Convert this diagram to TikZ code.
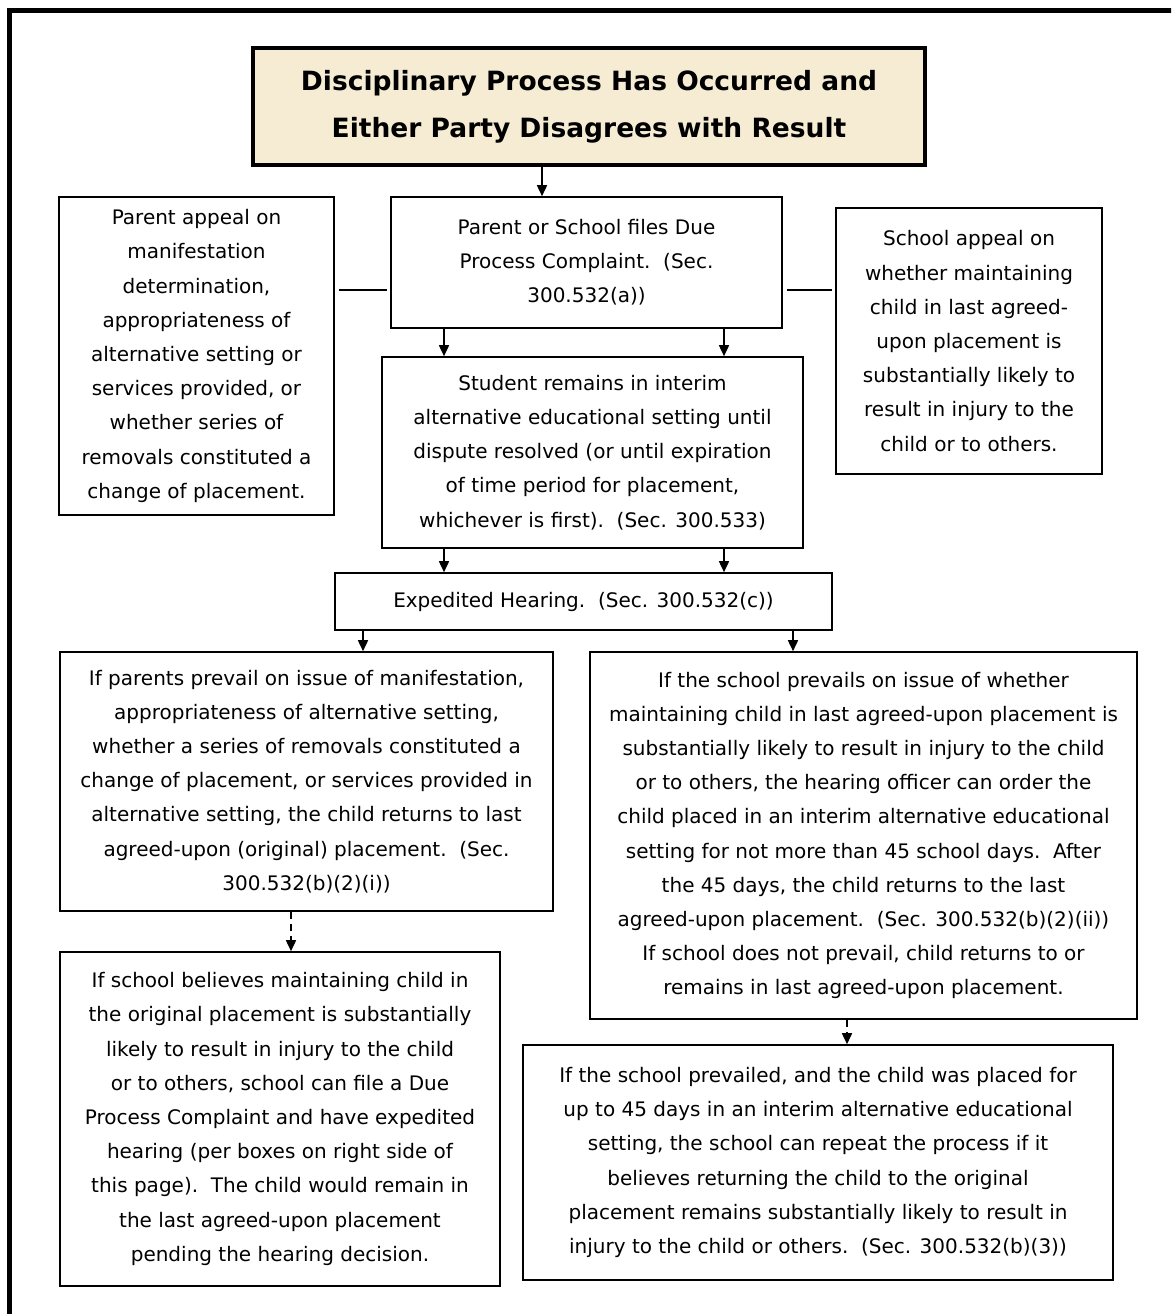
\documentclass[tikz,border=0pt]{standalone}
\usepackage{fontspec}
\setmainfont{DejaVu Sans}
\usepackage{tikz}
\usepackage{xcolor}
\usetikzlibrary{positioning, arrows.meta, calc}

\definecolor{parchment}{RGB}{245,236,211}
\newcommand\boxfont{\fontsize{20}{34.2}\selectfont}
\newcommand\titlefont{\fontsize{26.5}{47}\selectfont\bfseries}

\begin{document}
\begin{tikzpicture}[x=1pt, y=-1pt,
    stagebox/.style={draw, line width=1.6pt, align=center, inner sep=0pt, font=\boxfont},
    arr/.style={-{Triangle[length=11pt,width=10pt]}, line width=1.6pt},
    link/.style={line width=1.6pt}]
    \useasboundingbox (0,0) rectangle (1171,1314);
    \clip (0,0) rectangle (1171,1314);

    % Outer frame (runs off the right and bottom edges)
    \draw[line width=5pt] (9.5,10.5) rectangle (1195,1340);

    % Title
    \node[stagebox, fill=parchment, line width=3.5pt, font=\titlefont, minimum width=672pt, minimum height=117pt] (title) at (589,106.5)
        {\raisebox{-3pt}{Disciplinary Process Has Occurred and}\\\raisebox{-3pt}{Either Party Disagrees with Result}};

    % Complaint row
    \node[stagebox, minimum width=391pt, minimum height=131pt] (pcomp) at (586.5,262.5)
        {Parent or School files Due\\Process Complaint.\ \ (Sec.\\300.532(a))};
    \node[stagebox, minimum width=275pt, minimum height=318pt] (parent) at (196.5,356)
        {Parent appeal on\\manifestation\\determination,\\appropriateness of\\alternative setting or\\services provided, or\\whether series of\\removals constituted a\\change of placement.};
    \node[stagebox, minimum width=266pt, minimum height=266pt] (school) at (969,341)
        {School appeal on\\whether maintaining\\child in last agreed-\\upon placement is\\substantially likely to\\result in injury to the\\child or to others.};

    \node[stagebox, minimum width=421pt, minimum height=191pt] (interim) at (592.5,452.5)
        {Student remains in interim\\alternative educational setting until\\dispute resolved (or until expiration\\of time period for placement,\\whichever is first).\ \ (Sec. 300.533)};

    \node[stagebox, minimum width=497pt, minimum height=57pt] (hearing) at (583.5,601.5)
        {Expedited Hearing.\ \ (Sec. 300.532(c))};

    % Outcomes
    \node[stagebox, minimum width=493pt, minimum height=259pt] (prevailP) at (306.5,781.5)
        {If parents prevail on issue of manifestation,\\appropriateness of alternative setting,\\whether a series of removals constituted a\\change of placement, or services provided in\\alternative setting, the child returns to last\\agreed-upon (original) placement.\ \ (Sec.\\300.532(b)(2)(i))};
    \node[stagebox, minimum width=547pt, minimum height=367pt] (prevailS) at (863.5,835.5)
        {If the school prevails on issue of whether\\maintaining child in last agreed-upon placement is\\substantially likely to result in injury to the child\\or to others, the hearing officer can order the\\child placed in an interim alternative educational\\setting for not more than 45 school days.\ \ After\\the 45 days, the child returns to the last\\agreed-upon placement.\ \ (Sec. 300.532(b)(2)(ii))\\If school does not prevail, child returns to or\\remains in last agreed-upon placement.};

    \node[stagebox, minimum width=440pt, minimum height=334pt] (believe) at (280,1119)
        {If school believes maintaining child in\\the original placement is substantially\\likely to result in injury to the child\\or to others, school can file a Due\\Process Complaint and have expedited\\hearing (per boxes on right side of\\this page).\ \ The child would remain in\\the last agreed-upon placement\\pending the hearing decision.};
    \node[stagebox, minimum width=590pt, minimum height=235pt] (repeat) at (818,1162.5)
        {If the school prevailed, and the child was placed for\\up to 45 days in an interim alternative educational\\setting, the school can repeat the process if it\\believes returning the child to the original\\placement remains substantially likely to result in\\injury to the child or others.\ \ (Sec. 300.532(b)(3))};

    % Where the connectors run
    \coordinate (xa) at (542,0);
    \coordinate (xb) at (444,0);
    \coordinate (xc) at (724,0);
    \coordinate (xd) at (363,0);
    \coordinate (xe) at (793,0);
    \coordinate (xf) at (291,0);
    \coordinate (xg) at (847,0);
    \coordinate (yl) at (0,290);

    % Connectors
    \draw[arr] (title.south -| xa) -- (pcomp.north -| xa);
    \draw[arr] (pcomp.south -| xb) -- (interim.north -| xb);
    \draw[arr] (pcomp.south -| xc) -- (interim.north -| xc);
    \draw[arr] (interim.south -| xb) -- (hearing.north -| xb);
    \draw[arr] (interim.south -| xc) -- (hearing.north -| xc);
    \draw[arr] (hearing.south -| xd) -- (prevailP.north -| xd);
    \draw[arr] (hearing.south -| xe) -- (prevailS.north -| xe);
    \draw[arr, dash pattern=on 7pt off 5pt] (prevailP.south -| xf) -- (believe.north -| xf);
    \draw[arr, dash pattern=on 7pt off 5pt] (prevailS.south -| xg) -- (repeat.north -| xg);

    % Side links
    \draw[link, shorten <=4pt, shorten >=3pt] (parent.east |- yl) -- (pcomp.west |- yl);
    \draw[link, shorten <=4pt, shorten >=3pt] (pcomp.east |- yl) -- (school.west |- yl);
\end{tikzpicture}
\end{document}
